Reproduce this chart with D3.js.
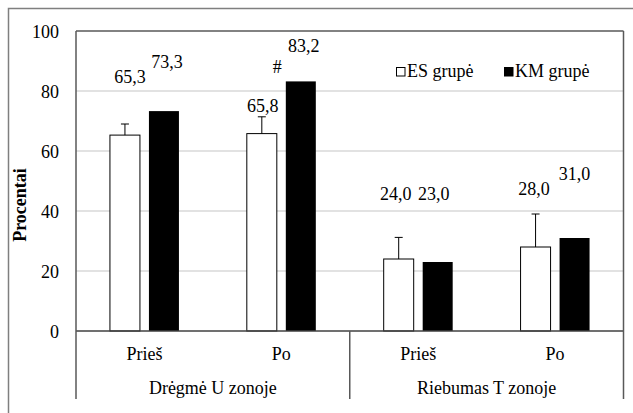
<!DOCTYPE html>
<html>
<head>
<meta charset="utf-8">
<script src="https://cdn.jsdelivr.net/npm/d3@7"></script>
</head>
<body style="margin:0; background:#fff">
<script>
// chart values
var groups = ["Drėgmė U zonoje", "Riebumas T zonoje"];
var phases = ["Prieš", "Po"];
var series = ["ES grupė", "KM grupė"];
var esValues = [65.3, 65.8, 24.0, 28.0];
var kmValues = [73.3, 83.2, 23.0, 31.0];
var esErrors = [3.7, 5.6, 7.2, 11.0];
var yTicks = [0, 20, 40, 60, 80, 100];
var markKM = ["", "#", "", ""];

var svgWidth = 633;
var svgHeight = 413;

var margin = { top: 31, right: 10, bottom: 82, left: 76 };
var width = 623.5 - margin.left;
var height = 331 - margin.top;

var svg = d3.select("body")
  .append("svg")
  .attr("width", svgWidth)
  .attr("height", svgHeight);

// outer chart frame (runs off the right / bottom edge)
svg.append("rect")
  .attr("x", 8.5).attr("y", 8.5)
  .attr("width", 640).attr("height", 420)
  .attr("fill", "none")
  .attr("stroke", "#7f7f7f")
  .attr("stroke-width", 1.5);

var chartGroup = svg.append("g")
  .attr("transform", `translate(${margin.left}, ${margin.top})`);

// categories: group + phase
var cats = [];
groups.forEach(function(g) {
  phases.forEach(function(p) { cats.push(g + "|" + p); });
});

var data = cats.map(function(c, i) {
  return { cat: c, phase: c.split("|")[1], es: esValues[i], km: kmValues[i], err: esErrors[i], mark: markKM[i] };
});

var xScale = d3.scaleBand().domain(cats).range([0, width]);
var yScale = d3.scaleLinear().domain([0, 100]).range([height, 0]);

// series band inside a category, bar 30px with 9px gap
var xSub = d3.scaleBand().domain(series).range([-34.5, 34.5]).paddingInner(9 / 39);

// gridlines
chartGroup.append("g")
  .selectAll("line")
  .data(yTicks.filter(d => d > 0 && d < 100))
  .enter()
  .append("line")
  .attr("x1", 0).attr("x2", width)
  .attr("y1", d => yScale(d)).attr("y2", d => yScale(d))
  .attr("stroke", "#d9d9d9")
  .attr("stroke-width", 1.5);

// y tick labels
chartGroup.append("g")
  .selectAll("text")
  .data(yTicks)
  .enter()
  .append("text")
  .attr("x", -17)
  .attr("y", d => yScale(d) + 6.5)
  .attr("text-anchor", "end")
  .text(d => d);

// bars
var barG = chartGroup.selectAll(".cat")
  .data(data)
  .enter()
  .append("g")
  .attr("class", "cat")
  .attr("transform", d => `translate(${xScale(d.cat) + xScale.bandwidth() / 2}, 0)`);

barG.append("rect")
  .attr("x", xSub(series[0]))
  .attr("y", d => yScale(d.es))
  .attr("width", xSub.bandwidth())
  .attr("height", d => height - yScale(d.es))
  .attr("fill", "#fff")
  .attr("stroke", "#000")
  .attr("stroke-width", 1);

barG.append("rect")
  .attr("x", xSub(series[1]))
  .attr("y", d => yScale(d.km))
  .attr("width", xSub.bandwidth())
  .attr("height", d => height - yScale(d.km))
  .attr("fill", "#000");

// error bars (upper only) on ES bars
var ex = xSub(series[0]) + xSub.bandwidth() / 2;
barG.append("line")
  .attr("x1", ex).attr("x2", ex)
  .attr("y1", d => yScale(d.es))
  .attr("y2", d => yScale(d.es + d.err))
  .attr("stroke", "#000");
barG.append("line")
  .attr("x1", ex - 4).attr("x2", ex + 4)
  .attr("y1", d => yScale(d.es + d.err))
  .attr("y2", d => yScale(d.es + d.err))
  .attr("stroke", "#000");

// data labels (hand-placed in the original, nudged here)
var esNudge = [[5, -52], [1, -21.5], [-3, -59], [-1.5, -52]];
var kmNudge = [[3, -43], [3, -29], [-4, -62], [0, -58]];
var fmt = v => d3.format(".1f")(v).replace(".", ",");

barG.append("text")
  .attr("x", (d, i) => ex + esNudge[i][0])
  .attr("y", (d, i) => yScale(d.es) + esNudge[i][1])
  .attr("text-anchor", "middle")
  .text(d => fmt(d.es));

var kx = xSub(series[1]) + xSub.bandwidth() / 2;
barG.append("text")
  .attr("x", (d, i) => kx + kmNudge[i][0])
  .attr("y", (d, i) => yScale(d.km) + kmNudge[i][1])
  .attr("text-anchor", "middle")
  .text(d => fmt(d.km));

barG.filter(d => d.mark !== "")
  .append("text")
  .attr("x", kx - 23.5)
  .attr("y", d => yScale(d.km) - 8)
  .attr("text-anchor", "middle")
  .text(d => d.mark);

// plot frame
chartGroup.append("line")
  .attr("x1", 0).attr("x2", width).attr("y1", 0).attr("y2", 0)
  .attr("stroke", "#595959").attr("stroke-width", 1.5);
chartGroup.append("line")
  .attr("x1", 0).attr("x2", width).attr("y1", height).attr("y2", height)
  .attr("stroke", "#404040").attr("stroke-width", 1.5);

// vertical lines: sides and group separator, down into the label area
var groupW = width / groups.length;
chartGroup.append("g")
  .selectAll("line")
  .data(d3.range(groups.length + 1))
  .enter()
  .append("line")
  .attr("x1", d => d * groupW).attr("x2", d => d * groupW)
  .attr("y1", d => (d === 1 ? height : 0))
  .attr("y2", height + 68)
  .attr("stroke", "#595959")
  .attr("stroke-width", 1.5);

// phase labels
chartGroup.append("g")
  .selectAll("text")
  .data(data)
  .enter()
  .append("text")
  .attr("x", d => xScale(d.cat) + xScale.bandwidth() / 2)
  .attr("y", height + 29)
  .attr("text-anchor", "middle")
  .text(d => d.phase);

// group labels
chartGroup.append("g")
  .selectAll("text")
  .data(groups)
  .enter()
  .append("text")
  .attr("x", (d, i) => (i + 0.5) * groupW)
  .attr("y", height + 63)
  .attr("text-anchor", "middle")
  .text(d => d);

// y axis title
svg.append("text")
  .attr("transform", "translate(26, 205) rotate(-90)")
  .attr("text-anchor", "middle")
  .style("font-weight", "bold")
  .text("Procentai");

// legend
var legend = svg.append("g").attr("transform", "translate(396, 67)");
var legX = [0, 108];
series.forEach(function(s, i) {
  legend.append("rect")
    .attr("x", legX[i] + 0.5).attr("y", 0.5)
    .attr("width", 8.5).attr("height", 8.5)
    .attr("fill", i === 0 ? "#fff" : "#000")
    .attr("stroke", "#000")
    .attr("stroke-width", 1);
  legend.append("text")
    .attr("x", legX[i] + 11)
    .attr("y", 10)
    .text(s);
});

// same serif face everywhere
svg.selectAll("text")
  .style("font-family", "Liberation Serif")
  .style("font-size", "18px")
  .attr("fill", "#000");
</script>
</body>
</html>
